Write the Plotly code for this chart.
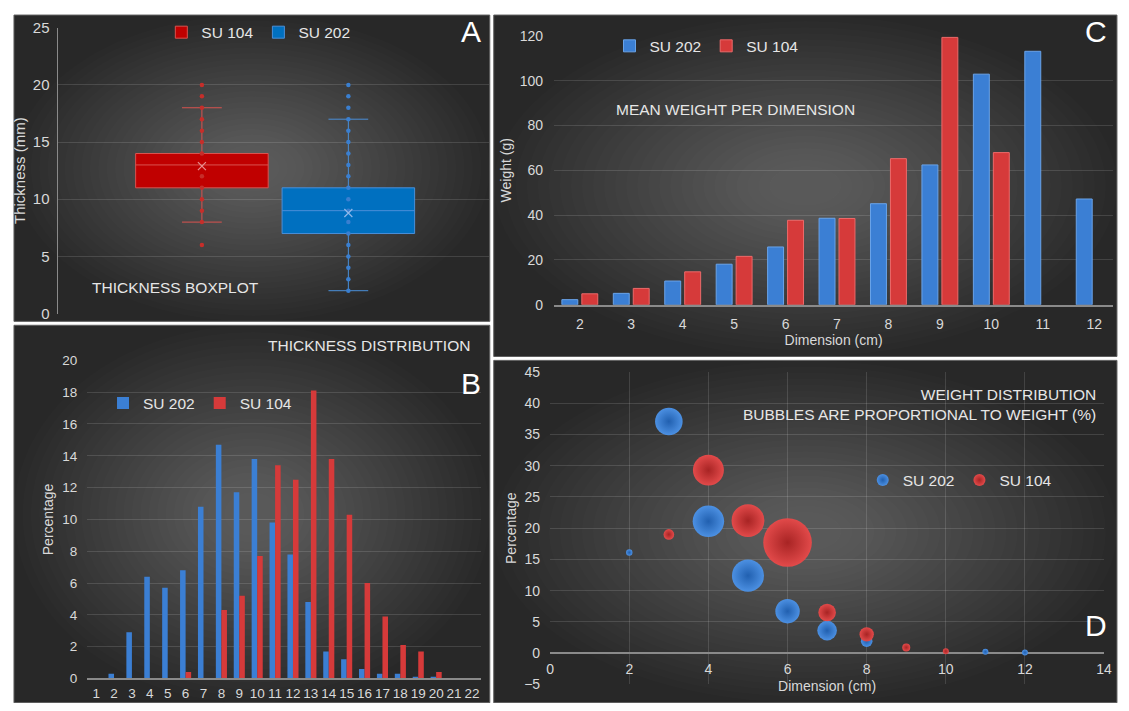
import plotly.graph_objects as go

# page is 1129x711; the browser body keeps an 8px margin, so the figure is 16px smaller
PAGE_W, PAGE_H, OFF = 1129, 711, 8
W, H = PAGE_W - 2 * OFF, PAGE_H - 2 * OFF

# ---------------- data ----------------
# Panel A - thickness boxplot (mm)
box_groups = ["SU 104", "SU 202"]
box_q1 = [11, 7]
box_median = [13, 9]
box_q3 = [14, 11]
box_lower = [8, 2]
box_upper = [18, 17]
box_mean = [12.9, 8.8]
points_su104 = [6, 8, 9, 10, 11, 12, 14, 15, 16, 17, 18, 19, 20]
points_su202 = [2, 3, 4, 5, 6, 7, 8, 9, 10, 11, 12, 13, 14, 15, 16, 17, 18, 19, 20]

# Panel B - thickness distribution (%)
thickness_mm = list(range(1, 23))
thick_pct_su202 = [0, 0.3, 2.9, 6.4, 5.7, 6.8, 10.8, 14.7, 11.7, 13.8, 9.8, 7.8,
                   4.8, 1.7, 1.2, 0.6, 0.3, 0.3, 0.1, 0.1, 0, 0]
thick_pct_su104 = [0, 0, 0, 0, 0, 0.4, 0, 4.3, 5.2, 7.7, 13.4, 12.5,
                   18.1, 13.8, 10.3, 6.0, 3.9, 2.1, 1.7, 0.4, 0, 0]

# Panel C - mean weight per dimension (g)
dimension_cm = [2, 3, 4, 5, 6, 7, 8, 9, 10, 11, 12]
mean_weight_su202 = [2.3, 5.1, 10.6, 18.1, 25.8, 38.6, 45.1, 62.4, 102.9, 113.1, 47.2]
mean_weight_su104 = [4.9, 7.3, 14.7, 21.6, 37.7, 38.5, 65.2, 119.3, 67.9, None, None]

# Panel D - weight distribution bubbles
bubble_dim_su202 = [2, 3, 4, 5, 6, 7, 8, 11, 12]
bubble_pct_su202 = [16.1, 37.1, 21.1, 12.4, 6.7, 3.6, 1.9, 0.2, 0.1]
bubble_wt_su202 = [0.8, 14.8, 19.3, 20.0, 11.6, 7.5, 2.6, 0.3, 0.3]
bubble_dim_su104 = [3, 4, 5, 6, 7, 8, 9, 10]
bubble_pct_su104 = [19.0, 29.3, 21.2, 17.7, 6.5, 3.0, 0.9, 0.3]
bubble_wt_su104 = [2.2, 18.7, 21.0, 46.0, 6.0, 4.0, 1.25, 0.2]

# ---------------- style ----------------
FONT = "Liberation Sans, Arial, sans-serif"
TXT = "#d9d9d9"
GRID = "rgba(255,255,255,0.13)"
AXL = "#8a8a8a"
BLUE = "#3b7fd4"
RED = "#d63a3a"


def px_x(p):
    return (p - OFF) / W


def px_y(p):
    return 1 - (p - OFF) / H


def clamp(v):
    return max(0.0, min(1.0, v))


def dom(x0, x1, y0, y1):
    return dict(x=[clamp(px_x(x0)), clamp(px_x(x1))], y=[clamp(px_y(y1)), clamp(px_y(y0))])


fig = go.Figure()

# ---- Panel A ----
box_fill = ["#c00000", "#0070c0"]
box_line = ["#d9534f", "#4a8fd8"]
pt_col = ["#c62e2a", "#3a7fd0"]
mean_col = ["#e89090", "#8fb8ea"]
pts = [points_su104, points_su202]
for i, g in enumerate(box_groups):
    fig.add_trace(go.Box(
        x=[g], q1=[box_q1[i]], median=[box_median[i]], q3=[box_q3[i]],
        lowerfence=[box_lower[i]], upperfence=[box_upper[i]],
        name=g, boxpoints=False, fillcolor=box_fill[i],
        line=dict(color=box_line[i], width=1), whiskerwidth=0.3, width=0.905,
        xaxis="x", yaxis="y", legend="legend"))
for i, g in enumerate(box_groups):
    fig.add_trace(go.Scatter(
        x=[g] * len(pts[i]), y=pts[i], mode="markers",
        marker=dict(size=4.5, color=pt_col[i]), showlegend=False,
        xaxis="x", yaxis="y"))
    fig.add_trace(go.Scatter(
        x=[g], y=[box_mean[i]], mode="markers",
        marker=dict(symbol="x-thin-open", size=8, color=mean_col[i],
                    line=dict(color=mean_col[i], width=1.2)),
        showlegend=False, xaxis="x", yaxis="y"))

# ---- Panel B ----
fig.add_trace(go.Bar(x=thickness_mm, y=thick_pct_su202, name="SU 202",
                     marker=dict(color=BLUE, line=dict(width=0)), width=0.31, offset=-0.31,
                     xaxis="x2", yaxis="y2", legend="legend2"))
fig.add_trace(go.Bar(x=thickness_mm, y=thick_pct_su104, name="SU 104",
                     marker=dict(color=RED, line=dict(width=0)), width=0.31, offset=0.0,
                     xaxis="x2", yaxis="y2", legend="legend2"))

# ---- Panel C ----
fig.add_trace(go.Bar(x=dimension_cm, y=mean_weight_su202, name="SU 202",
                     marker=dict(color=BLUE, line=dict(color="#6aa3e8", width=1)),
                     width=0.31, offset=-0.349,
                     xaxis="x3", yaxis="y3", legend="legend3"))
fig.add_trace(go.Bar(x=dimension_cm, y=mean_weight_su104, name="SU 104",
                     marker=dict(color=RED, line=dict(color="#ec6a6a", width=1)),
                     width=0.31, offset=0.039,
                     xaxis="x3", yaxis="y3", legend="legend3"))

# ---- Panel D ----
all_w = bubble_wt_su202 + bubble_wt_su104
max_diam = 48.6
sizeref = 2.0 * max(all_w) / (max_diam ** 2)
fig.add_trace(go.Scatter(x=bubble_dim_su202, y=bubble_pct_su202, mode="markers", name="SU 202",
                         marker=dict(size=bubble_wt_su202, sizemode="area", sizeref=sizeref, sizemin=3,
                                     opacity=1, color="#4c90e2",
                                     gradient=dict(type="radial", color="#2160b0"),
                                     line=dict(width=0)),
                         xaxis="x4", yaxis="y4", legend="legend4"))
fig.add_trace(go.Scatter(x=bubble_dim_su104, y=bubble_pct_su104, mode="markers", name="SU 104",
                         marker=dict(size=bubble_wt_su104, sizemode="area", sizeref=sizeref, sizemin=3,
                                     opacity=1, color="#e24a4a",
                                     gradient=dict(type="radial", color="#a82424"),
                                     line=dict(width=0)),
                         xaxis="x4", yaxis="y4", legend="legend4"))
fig.add_trace(go.Scatter(x=[], y=[], xaxis="x5", yaxis="y4", showlegend=False, hoverinfo="skip"))

# ---------------- layout ----------------
tickf = dict(family=FONT, size=14, color=TXT)
titlef = dict(family=FONT, size=14, color=TXT)

dA = dom(54, 490, 19, 312)
dB = dom(84, 482, 360, 686)
C_left, C_step = 556, 52.0
dC = dom(C_left, 1121, 27.3, 303)
C_right_px = C_left + (dC["x"][1] - dC["x"][0]) * W
C_range = [1.5, 1.5 + (C_right_px - C_left) / C_step]
dD = dom(552, 1112, 372, 692)

yD_range = [-5, 45]
zero_pos = dD["y"][0] + (0 - yD_range[0]) / (yD_range[1] - yD_range[0]) * (dD["y"][1] - dD["y"][0])

layout = dict(
    width=W, height=H, margin=dict(l=0, r=0, t=0, b=0),
    paper_bgcolor="white", plot_bgcolor="rgba(0,0,0,0)",
    font=dict(family=FONT, color=TXT),
    barmode="overlay", boxmode="overlay", showlegend=True,
    xaxis=dict(domain=dA["x"], anchor="y", type="category", categoryorder="array",
               categoryarray=box_groups, range=[-0.986, 1.959], showticklabels=False,
               showgrid=False, zeroline=False, showline=False, ticks=""),
    yaxis=dict(domain=dA["y"], anchor="x", range=[0, 25], dtick=5, showgrid=True, gridcolor=GRID,
               zeroline=False, showline=True, linecolor=AXL, linewidth=1, ticks="",
               tickfont=dict(family=FONT, size=15, color=TXT), ticklabelstandoff=4,
               title=dict(text="Thickness (mm)", font=dict(family=FONT, size=15, color=TXT), standoff=3)),
    xaxis2=dict(domain=dB["x"], anchor="y2", range=[0.5, 22.5], tickvals=thickness_mm,
                showgrid=False, zeroline=False, showline=True, linecolor=AXL, linewidth=1.5,
                ticks="", tickfont=dict(family=FONT, size=13.5, color=TXT), ticklabelstandoff=2),
    yaxis2=dict(domain=dB["y"], anchor="x2", range=[0, 20], dtick=2, showgrid=True, gridcolor=GRID,
                zeroline=False, showline=False, ticks="",
                tickfont=dict(family=FONT, size=13.5, color=TXT), ticklabelstandoff=9,
                title=dict(text="Percentage", font=titlef, standoff=5)),
    xaxis3=dict(domain=dC["x"], anchor="y3", range=C_range, tickvals=dimension_cm,
                showgrid=False, zeroline=False, showline=True, linecolor=AXL, linewidth=1.5,
                ticks="", tickfont=tickf, ticklabelstandoff=6,
                title=dict(text="Dimension (cm)", font=titlef, standoff=3)),
    yaxis3=dict(domain=dC["y"], anchor="x3", range=[0, 120], dtick=20, showgrid=True, gridcolor=GRID,
                zeroline=False, showline=False, ticks="", tickfont=tickf, ticklabelstandoff=10,
                title=dict(text="Weight (g)", font=titlef, standoff=4)),
    xaxis4=dict(domain=dD["x"], anchor="y4", range=[0, 14], dtick=2, showgrid=True, gridcolor=GRID,
                zeroline=False, showline=False, showticklabels=False, ticks=""),
    yaxis4=dict(domain=dD["y"], anchor="x4", range=yD_range, dtick=5, showgrid=True, gridcolor=GRID,
                zeroline=True, zerolinecolor=AXL, zerolinewidth=1.5, showline=False, ticks="",
                tickfont=tickf, ticklabelstandoff=9,
                title=dict(text="Percentage", font=titlef, standoff=4)),
    xaxis5=dict(overlaying="x4", anchor="free", position=zero_pos, range=[0, 14], dtick=2,
                showgrid=False, zeroline=False, showline=False, ticks="", tickfont=tickf,
                ticklabelstandoff=6, ticklabeloverflow="allow",
                title=dict(text="Dimension (cm)", font=titlef, standoff=5)),
)

legf = dict(family=FONT, size=15.5, color="#e6e6e6")
layout["legend"] = dict(orientation="h", x=px_x(257), xanchor="center", y=px_y(24), yanchor="middle",
                        font=legf, bgcolor="rgba(0,0,0,0)")
layout["legend2"] = dict(orientation="h", x=px_x(100), xanchor="left", y=px_y(404), yanchor="middle",
                         font=legf, bgcolor="rgba(0,0,0,0)")
layout["legend3"] = dict(orientation="h", x=px_x(612), xanchor="left", y=px_y(38), yanchor="middle",
                         font=legf, bgcolor="rgba(0,0,0,0)")
layout["legend4"] = dict(orientation="h", x=px_x(868), xanchor="left", y=px_y(483), yanchor="middle",
                         font=legf, bgcolor="rgba(0,0,0,0)", itemsizing="constant")

# panel backgrounds (dark radial look)
panels = [(10, 6, 491, 320), (10, 324, 491, 711), (495, 6, 1125, 356), (495, 360, 1125, 711)]
shapes = []
for (x0, y0, x1, y1) in panels:
    shapes.append(dict(type="rect", xref="paper", yref="paper", x0=px_x(x0), x1=px_x(x1),
                       y0=px_y(y1), y1=px_y(y0), fillcolor="#282828",
                       line=dict(color="#5e5e5e", width=1), layer="below"))
    cx, cy = (x0 + x1) / 2, (y0 + y1) / 2
    hw, hh = (x1 - x0) / 2, (y1 - y0) / 2
    n = 26
    for k in range(n):
        f = 1.0 - k / n * 0.92
        shapes.append(dict(type="circle", xref="paper", yref="paper",
                           x0=px_x(cx - hw * f), x1=px_x(cx + hw * f),
                           y0=px_y(cy + hh * f), y1=px_y(cy - hh * f),
                           fillcolor="rgba(255,255,255,0.0105)", line=dict(width=0), layer="below"))
layout["shapes"] = shapes

annf = dict(family=FONT, size=15.5, color="#e6e6e6")
letf = dict(family=FONT, size=30, color="white")
ann = [
    dict(text="THICKNESS BOXPLOT", x=px_x(87), y=px_y(285), xanchor="left", yanchor="middle", font=annf),
    dict(text="THICKNESS DISTRIBUTION", x=px_x(473), y=px_y(345), xanchor="right", yanchor="middle", font=annf),
    dict(text="MEAN WEIGHT PER DIMENSION", x=px_x(617), y=px_y(103), xanchor="left", yanchor="middle", font=annf),
    dict(text="WEIGHT DISTRIBUTION<br>BUBBLES ARE PROPORTIONAL TO WEIGHT (%)", x=px_x(1106), y=px_y(405),
         xanchor="right", yanchor="middle", align="right", font=annf),
    dict(text="A", x=px_x(472), y=px_y(23), xanchor="center", yanchor="middle", font=letf),
    dict(text="B", x=px_x(472), y=px_y(384), xanchor="center", yanchor="middle", font=letf),
    dict(text="C", x=px_x(1104), y=px_y(23), xanchor="center", yanchor="middle", font=letf),
    dict(text="D", x=px_x(1104), y=px_y(632), xanchor="center", yanchor="middle", font=letf),
]
for a in ann:
    a.update(xref="paper", yref="paper", showarrow=False)
layout["annotations"] = ann

fig.update_layout(**layout)
fig.write_html("out.html", config={"displayModeBar": False})
